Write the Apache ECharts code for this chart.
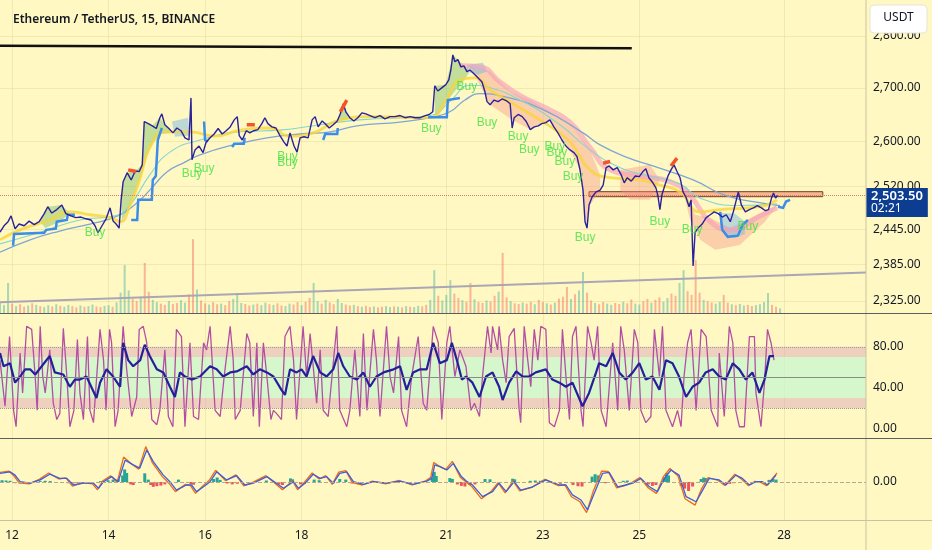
<!DOCTYPE html>
<html>
<head>
<meta charset="utf-8">
<script src="https://cdn.jsdelivr.net/npm/echarts@6/dist/echarts.min.js"></script>
<style>
  html, body { margin: 0; padding: 0; background: #fff8c3; }
  #chart { width: 932px; height: 550px; }
</style>
</head>
<body>
<div id="chart"></div>
<script>
// x values are 15 minute bar numbers counted from Nov 11 18:00
const dayTicks = [12, 14, 16, 18, 21, 23, 25, 28];
const priceTicks = [2325, 2385, 2445, 2520, 2600, 2700, 2800];
const oscTicks = [0, 40, 80];
const macdTicks = [0];
const lastPrice = 2503.5;
const lastTime = '02:21';

const priceBars = [[0,2440],[8,2451],[16,2458],[22,2468],[30,2446],[38,2454],[48,2451],[58,2459],[68,2453],[78,2458],[88,2472],[95,2484],[103,2473],[113,2479],[123,2487],[131,2472],[141,2468],[151,2465],[161,2466],[171,2463],[181,2461],[189,2451],[195,2439],[203,2451],[211,2463],[219,2482],[225,2459],[231,2454],[237,2447],[241,2496],[245,2528],[253,2544],[261,2531],[269,2547],[277,2546],[283,2558],[287,2637],[295,2633],[303,2629],[311,2624],[318,2644],[322,2651],[328,2631],[336,2624],[344,2616],[352,2625],[360,2620],[368,2607],[376,2603],[380,2681],[382,2567],[388,2585],[396,2592],[404,2580],[410,2599],[418,2607],[426,2614],[434,2624],[442,2614],[450,2620],[458,2627],[466,2640],[472,2646],[476,2611],[482,2603],[490,2620],[497,2616],[505,2620],[513,2622],[521,2633],[527,2644],[533,2633],[541,2627],[549,2625],[557,2611],[565,2599],[571,2592],[577,2616],[585,2592],[591,2581],[597,2607],[605,2609],[613,2607],[621,2640],[627,2646],[633,2627],[641,2638],[647,2633],[655,2625],[663,2631],[671,2638],[677,2651],[683,2670],[688,2655],[696,2644],[704,2638],[712,2644],[720,2653],[728,2651],[736,2648],[746,2644],[756,2648],[766,2642],[776,2646],[786,2646],[796,2648],[806,2644],[816,2646],[826,2644],[836,2644],[846,2648],[854,2650],[861,2655],[865,2704],[871,2694],[879,2700],[887,2706],[893,2715],[897,2734],[901,2763],[905,2750],[911,2754],[917,2740],[923,2742],[929,2731],[935,2734],[943,2727],[951,2719],[959,2711],[965,2692],[969,2674],[975,2668],[983,2677],[991,2674],[999,2679],[1007,2676],[1015,2670],[1019,2625],[1023,2644],[1031,2650],[1039,2646],[1047,2637],[1055,2622],[1063,2627],[1071,2629],[1078,2633],[1086,2635],[1094,2640],[1102,2627],[1110,2616],[1118,2603],[1126,2592],[1134,2585],[1142,2580],[1148,2573],[1154,2549],[1160,2513],[1164,2458],[1168,2447],[1172,2487],[1178,2501],[1186,2510],[1194,2513],[1200,2522],[1206,2553],[1212,2556],[1220,2549],[1228,2553],[1236,2540],[1242,2526],[1248,2535],[1256,2529],[1264,2538],[1272,2537],[1279,2546],[1285,2551],[1291,2535],[1299,2526],[1305,2517],[1309,2503],[1313,2479],[1317,2505],[1323,2522],[1329,2538],[1335,2549],[1341,2558],[1347,2546],[1353,2535],[1359,2510],[1365,2500],[1371,2484],[1375,2496],[1379,2383],[1383,2440],[1389,2447],[1397,2454],[1405,2465],[1413,2470],[1421,2475],[1429,2472],[1437,2466],[1445,2470],[1453,2458],[1459,2475],[1465,2496],[1469,2510],[1475,2487],[1483,2475],[1491,2479],[1499,2482],[1507,2486],[1515,2482],[1523,2477],[1529,2479],[1535,2499],[1539,2508],[1543,2499],[1547,2503.5]];

const slowMa = [[0,2406],[60,2427],[119,2442],[179,2454],[219,2463],[249,2475],[279,2496],[298,2513],[332,2545],[368,2563],[398,2576],[464,2594],[531,2607],[597,2614],[657,2618],[710,2629],[796,2636],[856,2644],[895,2655],[925,2677],[955,2689],[995,2685],[1080,2659],[1160,2616],[1194,2594],[1246,2572],[1299,2556],[1379,2531],[1446,2503],[1526,2489],[1552,2486]];
const midMa = [[0,2420],[80,2440],[159,2461],[229,2468],[259,2487],[298,2540],[338,2581],[398,2603],[478,2618],[557,2621],[637,2631],[716,2640],[856,2648],[895,2674],[935,2705],[975,2700],[1035,2677],[1114,2631],[1174,2585],[1234,2553],[1293,2538],[1353,2524],[1393,2499],[1472,2486],[1546,2489]];
const fastMa = [[0,2427],[40,2444],[99,2461],[139,2475],[179,2470],[219,2465],[239,2458],[259,2487],[279,2535],[298,2589],[328,2618],[378,2618],[428,2610],[478,2621],[537,2625],[577,2610],[617,2614],[677,2640],[736,2646],[856,2644],[885,2673],[915,2715],[945,2719],[975,2696],[1015,2673],[1074,2640],[1134,2600],[1174,2549],[1214,2535],[1273,2531],[1313,2522],[1353,2510],[1393,2475],[1433,2479],[1512,2484],[1546,2496]];
const slowRibbon = [[915,2742],[955,2740],[995,2711],[1035,2685],[1084,2663],[1134,2636],[1174,2589],[1214,2549],[1273,2538],[1333,2528],[1373,2503],[1413,2458],[1453,2444],[1512,2468],[1546,2482]];

const trailStops = [
  [[26,2417],[28,2437],[88,2439],[92,2444],[111,2446],[113,2458],[133,2461],[135,2470],[149,2470]],
  [[261,2461],[273,2461],[275,2496],[302,2496],[304,2531],[310,2538],[314,2603],[322,2625]],
  [[406,2637],[408,2603],[414,2600]],
  [[462,2590],[466,2596],[485,2596],[487,2607]],
  [[643,2603],[647,2614],[671,2614],[672,2625]],
  [[852,2645],[889,2645],[891,2677],[915,2681]],
  [[1433,2475],[1437,2444],[1448,2432],[1468,2434],[1478,2453],[1488,2461]],
  [[1548,2484],[1558,2482],[1564,2493],[1572,2496]]
];
const sellMarks = [
  [[255,2549],[271,2546]],
  [[491,2631],[507,2631]],
  [[677,2655],[690,2677]],
  [[1200,2561],[1214,2564]],
  [[1335,2556],[1347,2570]]
];
const buySignals = [[189,2439],[382,2542],[406,2551],[572,2572],[572,2561],[858,2623],[929,2702],[969,2634],[1031,2609],[1053,2585],[1104,2590],[1108,2580],[1124,2563],[1140,2537],[1164,2430],[1313,2458],[1377,2444],[1488,2449]];

const greenClouds = [
  [[241,2496],[245,2528],[253,2544],[269,2547],[283,2558],[287,2637],[303,2629],[318,2644],[334,2625],[342,2616],[318,2614],[298,2589],[279,2535],[259,2487],[243,2459]],
  [[865,2655],[865,2704],[887,2706],[901,2763],[911,2754],[923,2742],[935,2731],[919,2709],[899,2687],[881,2662],[867,2649]],
  [[80,2458],[95,2484],[123,2487],[139,2472],[119,2458],[90,2447]],
  [[671,2638],[683,2670],[696,2644],[686,2640]]
];
const redClouds = [
  [[935,2742],[975,2731],[1015,2692],[1055,2677],[1094,2655],[1134,2631],[1174,2585],[1194,2540],[1194,2513],[1174,2487],[1166,2451],[1154,2549],[1134,2585],[1094,2640],[1055,2622],[1019,2640],[975,2668],[945,2723]],
  [[1359,2513],[1383,2470],[1413,2465],[1453,2447],[1512,2472],[1546,2486],[1522,2458],[1472,2418],[1423,2410],[1393,2427],[1373,2461]],
  [[1234,2549],[1293,2558],[1313,2531],[1293,2496],[1254,2496],[1234,2513]]
];
const blueClouds = [
  [[1433,2473],[1462,2472],[1482,2458],[1482,2437],[1462,2430],[1442,2434],[1433,2453]],
  [[929,2744],[961,2748],[969,2731],[951,2725],[929,2731]],
  [[342,2637],[374,2644],[378,2611],[348,2609]]
];

const resistanceLine = [[0,2781],[1257,2776]];
const supportTrend = [[0,2323],[1723,2372]];
const zoneBars = [1172, 1637];
const zonePrices = [2501.5, 2510.3];

const volumes = [3.2,2.5,9.6,3.0,2.2,2.8,2.0,2.4,3.1,2.6, 2.2,1.9,2.5,2.1,2.8,2.3,2.0,2.6,2.2,1.8, 2.4,2.0,2.2,2.7,2.1,1.9,2.3,2.5,2.0,3.4, 6.5,15.3,7.2,4.5,3.8,5.2,16.0,6.8,4.2,3.5, 3.0,2.6,3.8,2.9,3.2,4.1,3.3,6.0,23.6,7.5, 4.0,3.1,2.7,3.5,2.8,3.0,2.5,3.8,4.5,6.4, 3.2,2.9,2.4,2.7,3.0,2.5,3.3,2.8,2.6,3.1, 2.4,2.2,3.0,2.7,3.5,2.5,3.6,4.8,9.6,3.8, 3.0,4.2,3.4,2.8,4.5,3.2,2.7,2.4,2.6,2.2, 2.0,2.3,1.9,2.1,1.8,2.0,2.2,1.9,2.1,2.0, 1.8,2.2,2.0,1.9,2.3,2.1,2.6,4.2,13.7,5.5, 4.0,5.8,10.5,6.2,4.8,4.1,3.6,9.6,4.4,3.5, 3.2,4.0,3.7,5.5,6.8,19.2,5.0,3.8,3.1,2.9, 3.4,3.0,3.6,2.8,4.2,3.5,3.1,2.7,3.3,4.6, 5.2,8.3,4.5,6.0,7.2,13.1,6.5,4.0,3.2,2.8, 3.5,3.0,2.6,3.2,2.9,3.6,3.1,4.3,3.0,2.7, 3.8,4.5,3.3,4.2,5.0,3.6,4.8,6.2,5.5,9.6, 13.7,7.0,5.8,16.9,6.5,4.2,3.8,3.4,3.0,3.6, 5.8,3.3,2.8,2.5,2.9,2.4,2.6,2.2,2.5,2.8, 3.5,6.4,2.6,2.0,1.5];
const volumeSides = 'uuududdudu' + 'duududuudd' + 'uduudduudu' + 'uuuddudduu' + 'ddudduuddu' + 'dduddudduu' + 'udduduudud' + 'duuddudduu' + 'dudduuddud' + 'uddudduudu' + 'duduudduud' + 'uuudduddud' + 'dudduddudd' + 'udduddudud' + 'dduduuddud' + 'duuddudduu' + 'ddudduuddu' + 'uddddudduu' + 'dduduudduu' + 'uuddu';

const stochK = [[0,67],[10,22],[19,90],[27,18],[32,2],[40,74],[45,35],[53,100],[63,97],[70,51],[74,18],[80,100],[85,51],[90,35],[99,77],[106,25],[113,9],[119,15],[126,98],[133,51],[139,2],[147,18],[154,87],[159,35],[166,9],[174,90],[179,18],[186,6],[199,97],[206,67],[211,18],[218,97],[222,84],[229,2],[235,18],[245,100],[252,58],[262,12],[272,31],[277,97],[285,100],[292,84],[302,9],[312,4],[318,18],[328,77],[335,12],[344,2],[351,97],[361,90],[368,2],[378,84],[385,12],[395,9],[405,84],[411,77],[418,100],[428,18],[438,12],[446,51],[458,100],[464,67],[468,9],[478,18],[491,93],[497,84],[504,12],[511,84],[516,2],[524,84],[531,51],[539,9],[544,18],[550,15],[560,9],[567,90],[577,100],[584,67],[590,9],[603,100],[610,51],[617,93],[630,25],[637,77],[643,18],[653,12],[670,100],[676,18],[690,2],[696,18],[706,77],[716,12],[723,93],[730,18],[743,97],[749,67],[756,12],[769,100],[776,51],[783,35],[793,90],[799,18],[809,2],[819,51],[832,90],[842,25],[849,18],[862,100],[872,84],[879,9],[889,84],[895,100],[905,51],[915,77],[927,61],[937,18],[944,25],[954,12],[960,51],[970,100],[977,74],[980,100],[990,77],[993,100],[1000,67],[1007,45],[1013,90],[1023,98],[1033,18],[1036,6],[1043,100],[1050,67],[1056,41],[1063,97],[1070,67],[1076,100],[1086,97],[1093,6],[1103,2],[1113,18],[1119,97],[1126,51],[1133,9],[1139,90],[1146,100],[1156,18],[1160,2],[1169,100],[1176,84],[1182,67],[1189,100],[1196,18],[1206,2],[1219,84],[1229,18],[1235,100],[1242,77],[1252,18],[1262,97],[1269,84],[1275,18],[1285,6],[1295,12],[1302,97],[1312,51],[1318,100],[1325,18],[1338,2],[1348,18],[1355,2],[1361,51],[1368,84],[1375,97],[1385,18],[1395,97],[1405,90],[1415,18],[1428,2],[1431,74],[1441,12],[1451,100],[1458,84],[1464,18],[1471,2],[1481,2],[1491,90],[1501,90],[1504,35],[1514,2],[1521,45],[1527,97],[1534,84],[1540,67]];
const rsi = [[0,74],[7,61],[20,64],[30,45],[40,51],[50,58],[60,58],[70,53],[83,61],[99,71],[109,55],[126,53],[139,41],[149,48],[159,48],[172,51],[192,30],[199,45],[212,58],[225,51],[239,41],[245,84],[255,67],[265,61],[279,67],[288,82],[298,71],[312,58],[325,55],[338,41],[348,31],[358,55],[368,51],[381,48],[398,51],[418,61],[431,58],[444,51],[458,55],[471,56],[491,61],[504,53],[517,58],[531,55],[544,51],[560,38],[567,33],[577,58],[590,55],[600,58],[610,51],[623,71],[637,55],[650,51],[663,58],[673,74],[683,61],[696,51],[710,48],[723,55],[736,41],[749,51],[763,55],[783,58],[796,61],[809,38],[822,55],[836,58],[849,58],[862,84],[875,64],[889,67],[899,84],[909,67],[919,48],[927,51],[940,45],[954,31],[967,51],[980,55],[993,41],[1000,28],[1013,45],[1027,56],[1040,51],[1053,51],[1066,55],[1086,58],[1099,48],[1113,45],[1126,41],[1139,45],[1159,22],[1172,35],[1186,55],[1192,64],[1206,61],[1219,74],[1232,55],[1245,48],[1259,55],[1272,64],[1285,48],[1298,51],[1312,38],[1325,67],[1338,64],[1351,51],[1365,31],[1378,41],[1391,45],[1404,55],[1418,58],[1431,51],[1444,48],[1458,64],[1471,58],[1484,48],[1497,55],[1511,35],[1521,48],[1531,71],[1540,71]];

const macdSignal = [[0,2.9],[20,3.4],[30,2.3],[40,0.1],[60,-0.4],[80,0.7],[99,2.6],[119,1.2],[133,1.2],[146,-1],[166,-0.4],[186,-0.4],[196,-2.1],[206,0.1],[222,1.8],[235,0.1],[249,7.3],[265,5.7],[278,4.6],[292,10.7],[305,6.8],[325,2.3],[338,0.1],[351,-2.7],[371,-1],[381,-1],[391,-3.2],[405,-1.6],[418,0.1],[431,3.4],[451,0.7],[471,2.1],[487,-1],[504,-0.4],[531,1.8],[550,-0.4],[564,-2.1],[584,0.1],[594,-2.1],[607,-0.4],[623,2.6],[637,1.2],[650,1.8],[663,-0.4],[676,2.9],[690,3.4],[703,0.1],[723,-0.8],[743,0.1],[769,-0.4],[796,0.3],[822,-0.8],[849,0.3],[859,1.2],[865,5.7],[875,5.1],[889,4],[902,6.2],[918,1.8],[927,0.4],[940,-1],[960,-4.9],[980,-3.2],[993,-0.4],[1007,-3.2],[1023,0.1],[1036,-2.7],[1060,-1.6],[1086,0.7],[1113,-1],[1126,-1],[1139,-4.3],[1156,-6],[1169,-9.3],[1182,-3.9],[1199,2.9],[1212,3.2],[1229,-1.6],[1245,-1],[1259,-0.4],[1275,1.2],[1292,-1.6],[1308,-3.2],[1322,1.2],[1335,4],[1351,2.3],[1365,-4.9],[1385,-6.6],[1398,-2.7],[1411,1.2],[1431,0.7],[1444,-1],[1464,2.3],[1477,1.2],[1491,-1],[1504,0.1],[1517,0.1],[1527,-1],[1544,2.3]];
const macdLine = [[0,3.2],[18,3.6],[28,2.0],[38,-0.3],[58,-0.6],[78,0.9],[97,3.0],[117,1.0],[131,1.4],[144,-1.4],[164,-0.2],[184,-0.6],[194,-2.6],[204,0.3],[220,2.1],[233,-0.1],[246,8.3],[262,6.0],[276,4.3],[290,11.8],[303,6.5],[323,1.8],[336,-0.4],[349,-3.2],[369,-0.8],[379,-1.2],[389,-3.8],[403,-1.4],[416,0.5],[429,3.9],[449,0.4],[469,2.4],[485,-1.3],[502,-0.2],[529,2.1],[548,-0.6],[562,-2.6],[582,0.4],[592,-2.6],[605,-0.2],[621,3.0],[635,1.0],[648,2.1],[661,-0.8],[674,3.3],[688,3.8],[701,-0.2],[721,-1.0],[741,0.3],[767,-0.6],[794,0.5],[820,-1.0],[847,0.4],[857,1.6],[863,6.5],[873,5.4],[887,4.2],[900,6.9],[916,1.5],[925,0.3],[938,-1.4],[958,-5.6],[978,-3.0],[991,-0.2],[1005,-3.6],[1021,0.4],[1034,-3.0],[1058,-1.8],[1084,0.9],[1111,-1.2],[1124,-1.0],[1137,-4.9],[1154,-6.6],[1167,-10.2],[1180,-3.2],[1197,3.6],[1210,3.5],[1227,-2.0],[1243,-1.2],[1257,-0.2],[1273,1.5],[1290,-2.0],[1306,-3.8],[1320,1.8],[1333,4.5],[1349,2.0],[1363,-5.6],[1383,-7.7],[1396,-2.2],[1409,1.5],[1429,0.5],[1442,-1.2],[1462,2.6],[1475,1.0],[1489,-1.2],[1502,0.2],[1515,-0.2],[1525,-1.2],[1546,3.0]];
const macdHist = [[4,0.6],[12,0.5],[20,0.4],[30,-0.4],[40,-0.5],[80,0.3],[90,0.4],[100,0.3],[135,-0.4],[145,-0.5],[155,-0.3],[200,0.3],[215,0.6],[225,0.8],[235,0.9],[244,2.2],[248,4.2],[252,3.0],[260,-0.8],[265,-1.0],[288,2.9],[295,0.8],[300,-1.0],[305,-1.6],[312,-1.4],[320,-1.2],[328,-0.8],[355,0.8],[380,-0.7],[385,-0.9],[425,1.0],[432,1.5],[438,0.7],[452,-0.5],[462,-0.8],[472,-0.6],[530,0.5],[555,-0.8],[562,-1.0],[578,1.2],[582,0.9],[598,-0.8],[605,-0.6],[625,0.8],[635,0.6],[663,-0.5],[676,1.0],[688,0.8],[700,-0.5],[710,-0.6],[720,-0.4],[860,1.5],[864,3.4],[868,2.0],[895,1.3],[900,1.0],[910,-0.8],[918,-1.3],[925,-1.5],[935,-1.0],[945,-0.8],[965,1.0],[975,0.9],[1020,1.1],[1024,0.9],[1055,0.4],[1065,0.5],[1075,0.4],[1115,-0.6],[1140,-1.0],[1150,-1.4],[1158,-1.5],[1178,1.8],[1184,2.6],[1190,2.2],[1205,-0.4],[1240,0.4],[1248,0.5],[1290,-0.8],[1298,-1.3],[1305,-1.0],[1322,1.5],[1326,3.0],[1330,2.2],[1355,-1.3],[1362,-2.2],[1370,-3.0],[1378,-1.5],[1395,1.0],[1400,1.5],[1405,1.3],[1445,-0.5],[1452,-0.6],[1460,-0.4],[1530,0.7],[1538,1.0],[1544,0.8]];

const barOfDay = d => (d - 11.75) * 96;
const fmt = v => v.toLocaleString('en-US', { minimumFractionDigits: 2, maximumFractionDigits: 2 });
const FONT = 'Noto Sans';
const GRID_LINE = 'rgba(170,160,80,0.16)';
const TEXT = '#131722';

function cloud(points, color) {
  return {
    type: 'custom', xAxisIndex: 0, yAxisIndex: 0, silent: true, z: 1,
    data: [points[0]],
    renderItem: (params, api) => ({
      type: 'polygon',
      shape: { points: points.map(p => api.coord(p)) },
      style: { fill: color }
    })
  };
}
function segments(list, color, width, z) {
  return {
    type: 'lines', coordinateSystem: 'cartesian2d', xAxisIndex: 0, yAxisIndex: 0,
    polyline: true, silent: true, z: z,
    lineStyle: { color: color, width: width, opacity: 1 },
    data: list.map(c => ({ coords: c }))
  };
}
function line(data, color, width, extra) {
  return Object.assign({
    type: 'line', data: data, symbol: 'none', silent: true,
    lineStyle: { color: color, width: width }
  }, extra || {});
}

const xTicks = dayTicks.map(barOfDay);
const xBase = { type: 'value', min: 0, max: 1723 };

const chart = echarts.init(document.getElementById('chart'));
chart.setOption({
  animation: false,
  backgroundColor: '#fff8c3',
  textStyle: { fontFamily: FONT },
  title: {
    text: 'Ethereum / TetherUS, 15, BINANCE', left: 8, top: 9,
    textStyle: { fontSize: 12, fontWeight: 600, color: TEXT, fontFamily: FONT }
  },
  grid: [
    { left: 0, right: 66, top: 0, height: 313 },
    { left: 0, right: 66, top: 313, height: 125 },
    { left: 0, right: 66, top: 438, height: 82 }
  ],
  xAxis: [0, 1, 2].map(i => Object.assign({}, xBase, {
    gridIndex: i,
    axisLine: { show: false },
    axisTick: { show: false, customValues: xTicks },
    axisLabel: {
      show: i === 2, customValues: xTicks, margin: 10,
      color: TEXT, fontSize: 12, fontFamily: FONT,
      formatter: v => String(Math.round(11.75 + v / 96))
    },
    splitLine: { show: true, lineStyle: { color: GRID_LINE } }
  })),
  yAxis: [
    {
      type: 'log', logBase: 10, gridIndex: 0, position: 'right', min: 2305.5, max: 2871.6,
      axisLine: { show: false }, axisTick: { show: false, customValues: priceTicks },
      axisLabel: { customValues: priceTicks, formatter: fmt, color: TEXT, fontSize: 12, margin: 7, fontFamily: FONT },
      splitLine: { show: true, lineStyle: { color: GRID_LINE } }
    },
    { type: 'value', gridIndex: 0, min: 0, max: 100, show: false },
    {
      type: 'value', gridIndex: 1, position: 'right', min: -9, max: 113,
      axisLine: { show: false }, axisTick: { show: false, customValues: oscTicks },
      axisLabel: { customValues: oscTicks, formatter: fmt, color: TEXT, fontSize: 12, margin: 7, fontFamily: FONT },
      splitLine: { show: false }
    },
    {
      type: 'value', gridIndex: 2, position: 'right', min: -12.67, max: 14.67,
      axisLine: { show: false }, axisTick: { show: false, customValues: macdTicks },
      axisLabel: { customValues: macdTicks, formatter: fmt, color: TEXT, fontSize: 12, margin: 7, fontFamily: FONT },
      splitLine: { show: false }
    }
  ],
  graphic: [
    { type: 'line', shape: { x1: 866, y1: 0, x2: 866, y2: 550 }, style: { stroke: '#c9c3a0', lineWidth: 1 }, z: 50 },
    { type: 'line', shape: { x1: 0, y1: 313.5, x2: 932, y2: 313.5 }, style: { stroke: '#5d5d5d', lineWidth: 1.2 }, z: 50 },
    { type: 'line', shape: { x1: 0, y1: 438.5, x2: 932, y2: 438.5 }, style: { stroke: '#5d5d5d', lineWidth: 1.2 }, z: 50 },
    { type: 'line', shape: { x1: 0, y1: 520.5, x2: 932, y2: 520.5 }, style: { stroke: '#c9c3a0', lineWidth: 1 }, z: 50 },
    {
      type: 'rect', shape: { x: 870, y: 5, width: 57, height: 28, r: 4 },
      style: { fill: '#ffffff', stroke: '#e6e3d6', lineWidth: 1 }, z: 60
    },
    {
      type: 'text', x: 898.5, y: 18, z: 61,
      style: { text: 'USDT', fill: TEXT, font: '12px "Noto Sans"', align: 'center', verticalAlign: 'middle' }
    }
  ],
  series: [
    {
      type: 'bar', xAxisIndex: 0, yAxisIndex: 1, barWidth: 2, silent: true, z: 1,
      data: volumes.map((v, i) => ({
        value: [i * 8, v],
        itemStyle: { color: volumeSides[i] === 'u' ? 'rgba(38,166,154,0.4)' : 'rgba(239,83,80,0.4)' }
      }))
    },
    ...greenClouds.map(p => cloud(p, 'rgba(110,185,95,0.42)')),
    ...redClouds.map(p => cloud(p, 'rgba(245,140,130,0.38)')),
    ...blueClouds.map(p => cloud(p, 'rgba(110,180,230,0.45)')),
    line(slowRibbon, 'rgba(244,160,185,0.65)', 5, { xAxisIndex: 0, yAxisIndex: 0, smooth: true, z: 2 }),
    line(slowMa, '#7ea6d4', 1.3, { xAxisIndex: 0, yAxisIndex: 0, smooth: true, z: 3 }),
    line(midMa, '#86d6cf', 1.1, { xAxisIndex: 0, yAxisIndex: 0, smooth: true, z: 3 }),
    line(fastMa, 'rgba(247,212,60,0.8)', 2.8, { xAxisIndex: 0, yAxisIndex: 0, smooth: true, z: 3 }),
    segments(trailStops, '#3b8de8', 2.5, 4),
    line(priceBars, '#2a229c', 1.4, {
      xAxisIndex: 0, yAxisIndex: 0, z: 5,
      markArea: {
        silent: true,
        itemStyle: { color: 'rgba(238,140,110,0.6)', borderColor: '#7a3b22', borderWidth: 1 },
        data: [[{ coord: [zoneBars[0], zonePrices[1]] }, { coord: [zoneBars[1], zonePrices[0]] }]]
      },
      markLine: {
        silent: true, symbol: ['none', 'none'],
        label: { show: false },
        data: [
          [{ coord: resistanceLine[0], lineStyle: { color: '#111111', width: 2.5, type: 'solid' } }, { coord: resistanceLine[1] }],
          [{ coord: supportTrend[0], lineStyle: { color: '#aaa6b6', width: 2, type: 'solid' } }, { coord: supportTrend[1] }],
          {
            yAxis: lastPrice,
            lineStyle: { color: '#e07b6a', width: 1, type: 'dotted' },
            label: {
              show: true, position: 'end', distance: 0,
              formatter: '{a|' + fmt(lastPrice) + '}\n{b|' + lastTime + '}',
              backgroundColor: '#0d3d91', padding: [2, 5, 2, 5], offset: [0, 7],
              rich: {
                a: { color: '#fff', fontSize: 13, fontWeight: 600, lineHeight: 13, fontFamily: FONT },
                b: { color: '#fff', fontSize: 12, lineHeight: 12, fontFamily: FONT }
              }
            }
          }
        ]
      }
    }),
    segments(sellMarks, '#f2552c', 3.5, 6),
    {
      type: 'scatter', xAxisIndex: 0, yAxisIndex: 0, symbol: 'circle', symbolSize: 1, silent: true, z: 7,
      itemStyle: { color: 'rgba(0,0,0,0)' },
      label: { show: true, position: 'inside', formatter: 'Buy', color: '#3fe23f', fontSize: 12, fontFamily: 'Liberation Sans' },
      labelLayout: { hideOverlap: false },
      data: buySignals
    },
    line(stochK, '#b34fa3', 1.3, {
      xAxisIndex: 1, yAxisIndex: 2, z: 3,
      markArea: {
        silent: true,
        data: [
          [{ yAxis: 70, itemStyle: { color: 'rgba(215,160,185,0.45)' } }, { yAxis: 80 }],
          [{ yAxis: 30, itemStyle: { color: 'rgba(200,245,205,0.75)' } }, { yAxis: 70 }],
          [{ yAxis: 20, itemStyle: { color: 'rgba(215,160,185,0.45)' } }, { yAxis: 30 }]
        ]
      },
      markLine: {
        silent: true, symbol: ['none', 'none'], label: { show: false },
        data: [
          { yAxis: 80, lineStyle: { color: '#9a9a9a', type: 'dotted', width: 1 } },
          { yAxis: 20, lineStyle: { color: '#9a9a9a', type: 'dotted', width: 1 } },
          { yAxis: 50, lineStyle: { color: '#8a8a8a', type: 'solid', width: 1 } }
        ]
      }
    }),
    line(rsi, '#25209a', 2.2, { xAxisIndex: 1, yAxisIndex: 2, z: 4 }),
    {
      type: 'bar', xAxisIndex: 2, yAxisIndex: 3, barWidth: 3, silent: true, z: 2,
      data: macdHist.map(d => ({
        value: d,
        itemStyle: { color: d[1] >= 0 ? '#2aa595' : '#f0525a' }
      }))
    },
    line(macdLine, '#f06a12', 1.3, {
      xAxisIndex: 2, yAxisIndex: 3, z: 3,
      markLine: {
        silent: true, symbol: ['none', 'none'], label: { show: false },
        data: [{ yAxis: 0, lineStyle: { color: '#b0aa90', type: 'dashed', width: 1 } }]
      }
    }),
    line(macdSignal, '#3a5ee0', 1.3, { xAxisIndex: 2, yAxisIndex: 3, z: 4 })
  ]
});
</script>
</body>
</html>
